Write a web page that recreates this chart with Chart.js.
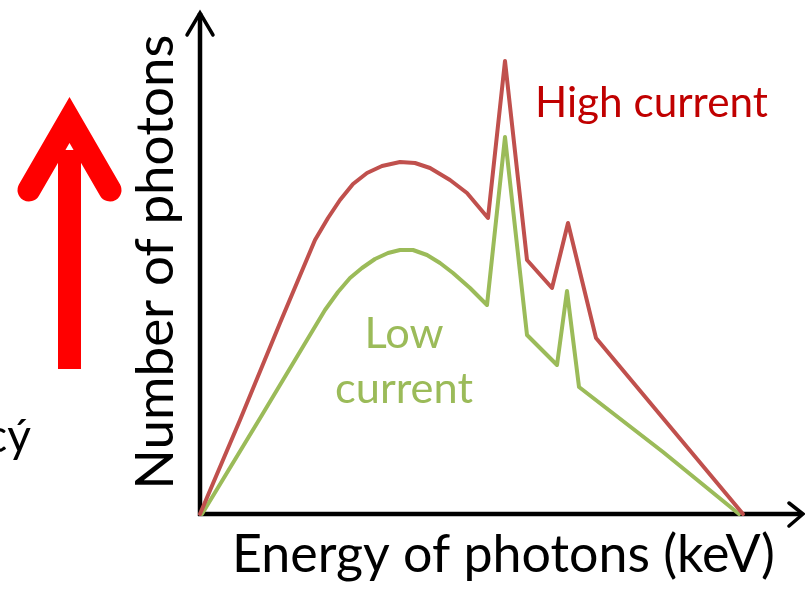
<!DOCTYPE html>
<html><head><meta charset="utf-8">
<script src="https://cdn.jsdelivr.net/npm/chart.js@4/dist/chart.umd.min.js"></script>
<style>html,body{margin:0;padding:0;background:#fff;overflow:hidden}#wrap{width:805px;height:590px;position:relative}</style>
</head><body><div id="wrap"><canvas id="c" width="805" height="590"></canvas></div>
<script>
// Energy (arbitrary keV units) and photon counts (arbitrary units)
const highEnergy = [0, 10, 20, 28.75, 32, 35, 38.25, 41.75, 45.5, 50, 53.75, 57.5, 62.5, 66.75, 72, 76.25, 81.75, 88, 92, 99, 135.75];
const highCount  = [0, 18.8, 38.2, 54.8, 59.2, 62.8, 66, 68.2, 69.6, 70.4, 70.2, 69.2, 66.8, 64.2, 59.2, 90.6, 50.8, 45.2, 58.2, 35.2, 0];
const lowEnergy  = [0.5, 15.5, 31.25, 34.5, 37.5, 40.5, 43.75, 47, 50, 53.25, 56.75, 60, 63.25, 67.5, 71.75, 76.25, 81.75, 89.25, 91.75, 94.75, 115.75, 134.75];
const lowCount   = [0, 19.8, 40.8, 44.4, 47.2, 49.2, 51, 52.2, 52.8, 52.8, 51.8, 50.2, 48.2, 45.2, 41.8, 75.4, 35.8, 29.8, 44.6, 25.4, 12.4, 0];
const xAxisTitle = 'Energy of photons (keV)';
const yAxisTitle = 'Number of photons';
const highLabel = 'High current';
const lowLabel = ['Low', 'current'];
const sideText = 'cý';

const FAMILY = "Lato, 'Open Sans', 'Noto Sans', sans-serif";
function fitFont(ctx, text, width) {
  ctx.font = '100px ' + FAMILY;
  return 100 * width / ctx.measureText(text).width;
}
const toPts = (xs, ys) => xs.map((x, i) => ({x: x, y: ys[i]}));

const decor = {
  id: 'decor',
  beforeDatasetsDraw(chart) {
    const ctx = chart.ctx, a = chart.chartArea;
    const x0 = chart.scales.x.getPixelForValue(0);
    const y0 = chart.scales.y.getPixelForValue(0);
    ctx.save();
    ctx.strokeStyle = '#000'; ctx.lineWidth = 4.5; ctx.lineCap = 'butt';
    ctx.beginPath(); ctx.moveTo(x0, y0 + 2); ctx.lineTo(x0, a.top - 1); ctx.stroke();
    ctx.beginPath(); ctx.moveTo(x0 - 2, y0); ctx.lineTo(a.right + 2, y0); ctx.stroke();
    ctx.lineWidth = 3.5; ctx.lineCap = 'round'; ctx.lineJoin = 'miter';
    ctx.beginPath(); ctx.moveTo(x0 - 13, a.top + 21); ctx.lineTo(x0, a.top - 1); ctx.lineTo(x0 + 13, a.top + 21); ctx.stroke();
    ctx.beginPath(); ctx.moveTo(a.right - 11, y0 - 11); ctx.lineTo(a.right + 3, y0); ctx.lineTo(a.right - 11, y0 + 12); ctx.stroke();
    ctx.restore();
  },
  afterDraw(chart) {
    const ctx = chart.ctx;
    ctx.save();
    ctx.textBaseline = 'alphabetic';
    // Axis titles
    ctx.fillStyle = '#000';
    let fs = fitFont(ctx, xAxisTitle, 543);
    ctx.font = fs + 'px ' + FAMILY; ctx.textAlign = 'left';
    ctx.fillText(xAxisTitle, 232, 572);
    fs = fitFont(ctx, yAxisTitle, 455);
    ctx.save(); ctx.translate(173, 262); ctx.rotate(-Math.PI / 2);
    ctx.font = fs + 'px ' + FAMILY; ctx.textAlign = 'center';
    ctx.fillText(yAxisTitle, 0, 0); ctx.restore();
    // Series labels
    ctx.fillStyle = '#C00000';
    fs = fitFont(ctx, highLabel, 233);
    ctx.font = fs + 'px ' + FAMILY; ctx.textAlign = 'left';
    ctx.fillText(highLabel, 535, 117);
    ctx.fillStyle = '#9BBB59';
    fs = fitFont(ctx, lowLabel[1], 138);
    ctx.font = fs + 'px ' + FAMILY; ctx.textAlign = 'center';
    ctx.fillText(lowLabel[0], 404, 348);
    ctx.fillText(lowLabel[1], 404, 403);
    // Side text (cut off at left edge)
    ctx.fillStyle = '#000';
    ctx.font = '46px ' + FAMILY; ctx.textAlign = 'right';
    ctx.fillText(sideText, 31, 452);
    // Red arrow
    ctx.fillStyle = '#FF0000'; ctx.strokeStyle = '#FF0000';
    ctx.fillRect(58, 150, 23, 219);
    ctx.lineWidth = 23; ctx.lineCap = 'round'; ctx.lineJoin = 'miter'; ctx.miterLimit = 10;
    ctx.beginPath(); ctx.moveTo(29, 190); ctx.lineTo(69.5, 120); ctx.lineTo(110, 190); ctx.stroke();
    ctx.restore();
  }
};

new Chart(document.getElementById('c'), {
  type: 'line',
  data: {
    datasets: [
      { label: highLabel, data: toPts(highEnergy, highCount), borderColor: '#C0504D', borderWidth: 4, borderJoinStyle: 'round', borderCapStyle: 'round', pointRadius: 0, tension: 0, clip: false, fill: false },
      { label: lowLabel.join(' '), data: toPts(lowEnergy, lowCount), borderColor: '#9BBB59', borderWidth: 4, borderJoinStyle: 'round', borderCapStyle: 'round', pointRadius: 0, tension: 0, clip: false, fill: false }
    ]
  },
  options: {
    responsive: false, animation: false, devicePixelRatio: 1,
    layout: { padding: { left: 200, right: 5, top: 14, bottom: 76 } },
    scales: {
      x: { type: 'linear', min: 0, max: 150, display: false },
      y: { type: 'linear', min: 0, max: 100, display: false }
    },
    plugins: { legend: { display: false }, tooltip: { enabled: false } }
  },
  plugins: [decor]
});
</script></body></html>
